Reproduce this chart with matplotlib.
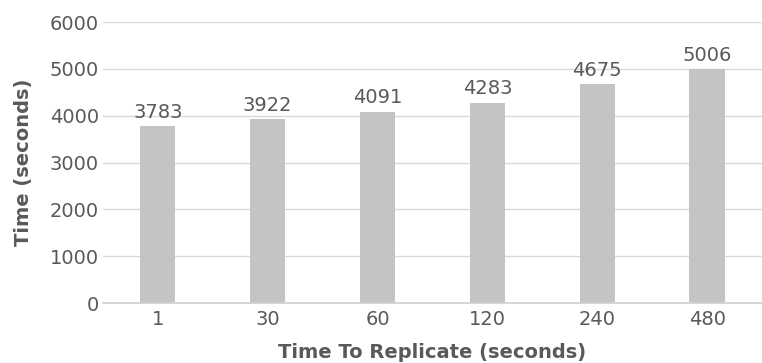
import matplotlib.pyplot as plt

categories = ["1", "30", "60", "120", "240", "480"]
times = [3783, 3922, 4091, 4283, 4675, 5006]

text_color = "#595959"
bar_color = "#C3C4C3"

fig, ax = plt.subplots(figsize=(7.62, 3.63), dpi=100)
plt.subplots_adjust(left=0.135, right=1.0, bottom=0.165, top=0.939)

x = list(range(len(categories)))
bars = ax.bar(x, times, width=0.32, color=bar_color, zorder=2)

for rect, value in zip(bars, times):
    ax.annotate(
        str(value),
        (rect.get_x() + rect.get_width() / 2, value),
        xytext=(0, 3),
        textcoords="offset points",
        ha="center",
        va="bottom",
        fontsize=14,
        color=text_color,
    )

ax.set_xlim(-0.5, len(categories) - 0.5)
ax.set_ylim(0, 6000)
ax.set_yticks(range(0, 6001, 1000))
ax.set_xticks(x)
ax.set_xticklabels(categories)

ax.tick_params(axis="both", length=0, labelsize=14, labelcolor=text_color)
ax.tick_params(axis="x", pad=5)
ax.tick_params(axis="y", pad=3)

ax.grid(axis="y", color="#D9D9D9", linewidth=1, zorder=0)
for side in ("top", "right", "left"):
    ax.spines[side].set_visible(False)
ax.spines["bottom"].set_color("#D0D0D0")
ax.spines["bottom"].set_linewidth(1.2)

ax.set_xlabel("Time To Replicate (seconds)", fontsize=14, fontweight="bold",
              color=text_color, labelpad=10)
ax.set_ylabel("Time (seconds)", fontsize=14, fontweight="bold",
              color=text_color, labelpad=12)

fig.savefig("out.png", dpi=100)
